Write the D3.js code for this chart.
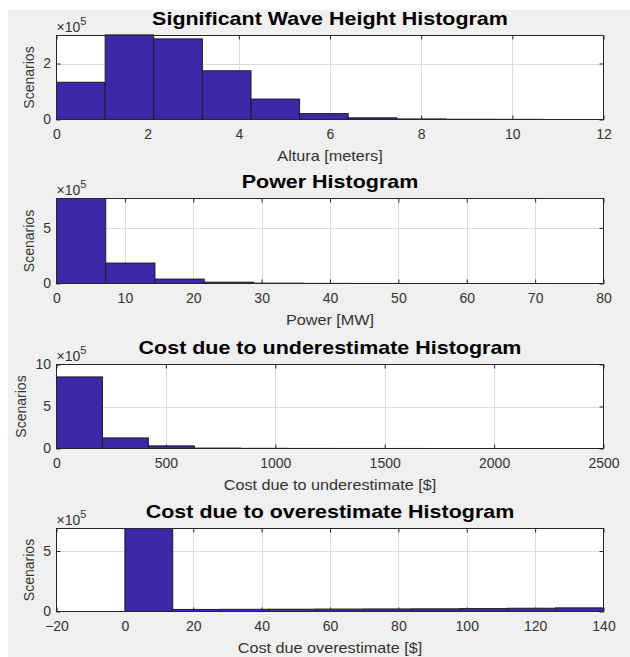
<!DOCTYPE html>
<html>
<head>
<meta charset="utf-8">
<script src="https://cdn.jsdelivr.net/npm/d3@7"></script>
<style>
  body { margin: 0; background: #fff; }
  svg { display: block; font-family: "Liberation Sans", Arial, Helvetica, sans-serif; }
</style>
</head>
<body>
<div id="chart"></div>
<script>
// ---- data (counts are in units of 1e5 scenarios) ----
const waveEdges = [0, 1.067, 2.133, 3.2, 4.267, 5.333, 6.4, 7.467, 8.533, 9.6, 10.667];
const waveCounts = [1.33, 3.02, 2.88, 1.74, 0.73, 0.21, 0.06, 0.02, 0.01, 0.005];
const waveXTicks = [0, 2, 4, 6, 8, 10, 12];
const waveYTicks = [0, 2];

const powerEdges = [0, 7.2, 14.4, 21.6, 28.8, 36, 43.2, 50.4, 57.6, 64.8, 72];
const powerCounts = [7.65, 1.84, 0.4, 0.12, 0.03, 0.01, 0.005, 0.003, 0.002, 0.001];
const powerXTicks = [0, 10, 20, 30, 40, 50, 60, 70, 80];
const powerYTicks = [0, 5];

const underEdges = [0, 210, 420, 630, 840, 1050, 1260, 1470, 1680, 1890, 2100];
const underCounts = [8.52, 1.26, 0.31, 0.05, 0.02, 0.01, 0.005, 0.003, 0.002, 0.001];
const underXTicks = [0, 500, 1000, 1500, 2000, 2500];
const underYTicks = [0, 5, 10];

const overEdges = [0, 14, 28, 42, 56, 70, 84, 98, 112, 126, 140];
const overCounts = [6.86, 0.17, 0.18, 0.19, 0.2, 0.21, 0.22, 0.24, 0.27, 0.3];
const overXTicks = [-20, 0, 20, 40, 60, 80, 100, 120, 140];
const overYTicks = [0, 5];

const titles = [
  'Significant Wave Height Histogram',
  'Power Histogram',
  'Cost due to underestimate Histogram',
  'Cost due to overestimate Histogram'
];
const xLabels = [
  'Altura [meters]',
  'Power [MW]',
  'Cost due to underestimate [$]',
  'Cost due overestimate [$]'
];

const panels = [
  { edges: waveEdges, counts: waveCounts, xDomain: [0, 12], yMax: 3, xTicks: waveXTicks, yTicks: waveYTicks },
  { edges: powerEdges, counts: powerCounts, xDomain: [0, 80], yMax: 7.65, xTicks: powerXTicks, yTicks: powerYTicks },
  { edges: underEdges, counts: underCounts, xDomain: [0, 2500], yMax: 10, xTicks: underXTicks, yTicks: underYTicks },
  { edges: overEdges, counts: overCounts, xDomain: [-20, 140], yMax: 6.86, xTicks: overXTicks, yTicks: overYTicks }
].map((p, i) => Object.assign(p, { title: titles[i], xLabel: xLabels[i] }));

// ---- layout ----
const W = 630, H = 657;
const left = 56.5, right = 603.5;
const boxes = [[35.5, 119.5], [198.5, 283.5], [364.5, 448.5], [528.5, 611.5]];
const barFill = '#3d26a8';
const textColor = '#333';

const svg = d3.select('#chart').append('svg')
  .attr('width', W)
  .attr('height', H);

// figure background (white strip on top/left like the screenshot)
svg.append('rect')
  .attr('x', 8).attr('y', 10)
  .attr('width', W - 8).attr('height', H - 10)
  .attr('fill', '#f0f0f0');

panels.forEach((p, i) => {
  const [top, bottom] = boxes[i];
  const x = d3.scaleLinear().domain(p.xDomain).range([left, right]);
  const y = d3.scaleLinear().domain([0, p.yMax]).range([bottom, top]);
  const g = svg.append('g');

  // plot area
  g.append('rect')
    .attr('x', left).attr('y', top)
    .attr('width', right - left).attr('height', bottom - top)
    .attr('fill', '#fff');

  // grid
  g.append('g').selectAll('line')
    .data(p.xTicks.filter(t => t > p.xDomain[0] && t < p.xDomain[1]))
    .join('line')
    .attr('x1', d => Math.round(x(d)) + 0.5).attr('x2', d => Math.round(x(d)) + 0.5)
    .attr('y1', top).attr('y2', bottom)
    .attr('stroke', '#dcdcdc');
  g.append('g').selectAll('line')
    .data(p.yTicks.filter(t => t > 0 && t < p.yMax))
    .join('line')
    .attr('x1', left).attr('x2', right)
    .attr('y1', d => Math.round(y(d)) + 0.5).attr('y2', d => Math.round(y(d)) + 0.5)
    .attr('stroke', '#dcdcdc');

  // axes (ticks inward, box drawn separately)
  g.append('g')
    .attr('transform', `translate(0,${bottom})`)
    .call(d3.axisBottom(x).tickValues(p.xTicks).tickSizeInner(-4).tickSizeOuter(0).tickPadding(9.5).tickFormat(d3.format('d')));
  g.append('g')
    .attr('transform', `translate(0,${top})`)
    .call(d3.axisTop(x).tickValues(p.xTicks).tickSizeInner(-4).tickSizeOuter(0).tickFormat(''));
  const yAxis = g.append('g')
    .attr('transform', `translate(${left},0)`)
    .call(d3.axisLeft(y).tickValues(p.yTicks).tickSizeInner(-4).tickSizeOuter(0).tickPadding(5.5).tickFormat(d3.format('d')));
  g.append('g')
    .attr('transform', `translate(${right},0)`)
    .call(d3.axisRight(y).tickValues(p.yTicks).tickSizeInner(-4).tickSizeOuter(0).tickFormat(''));

  g.selectAll('.domain').remove();
  g.selectAll('.tick line').attr('stroke', '#262626');
  g.selectAll('.tick text')
    .attr('fill', textColor)
    .attr('font-size', 14)
    .attr('font-family', null);

  // bars
  const bins = p.counts.map((c, k) => ({ x0: p.edges[k], x1: p.edges[k + 1], c }));
  g.append('g').selectAll('rect')
    .data(bins)
    .join('rect')
    .attr('x', d => x(d.x0))
    .attr('width', d => x(d.x1) - x(d.x0))
    .attr('y', d => y(d.c))
    .attr('height', d => bottom - y(d.c))
    .attr('fill', barFill)
    .attr('stroke', '#1e1e1e')
    .attr('stroke-width', 1);

  // box
  g.append('rect')
    .attr('x', left).attr('y', top)
    .attr('width', right - left).attr('height', bottom - top)
    .attr('fill', 'none')
    .attr('stroke', '#262626')
    .attr('stroke-width', 1);

  // exponent label
  const ex = g.append('text')
    .attr('x', left).attr('y', top - 3.5)
    .attr('fill', textColor)
    .attr('font-size', 14);
  ex.append('tspan').text('\u00d710');
  ex.append('tspan').attr('dy', -7).attr('font-size', 11).text('5');

  // title (reference glyphs are wider than Arial: stretch horizontally)
  g.append('text')
    .attr('transform', `translate(${(left + right) / 2},${top - 10.5}) scale(1.13,1)`)
    .attr('text-anchor', 'middle')
    .attr('font-weight', 'bold')
    .attr('font-size', 19)
    .attr('fill', '#000')
    .text(p.title);

  // x label
  g.append('text')
    .attr('transform', `translate(${(left + right) / 2},${bottom + 41.5}) scale(1.08,1)`)
    .attr('text-anchor', 'middle')
    .attr('font-size', 15)
    .attr('fill', textColor)
    .text(p.xLabel);

  // y label, placed left of the widest tick label
  const tickW = d3.max(yAxis.selectAll('.tick text').nodes(), n => n.getBBox().width);
  const yl = left - 5.5 - tickW - 14;
  g.append('text')
    .attr('transform', `translate(${yl},${(top + bottom) / 2}) rotate(-90)`)
    .attr('text-anchor', 'middle')
    .attr('dy', '0.35em')
    .attr('font-size', 14)
    .attr('fill', textColor)
    .text('Scenarios');
});
</script>
</body>
</html>
